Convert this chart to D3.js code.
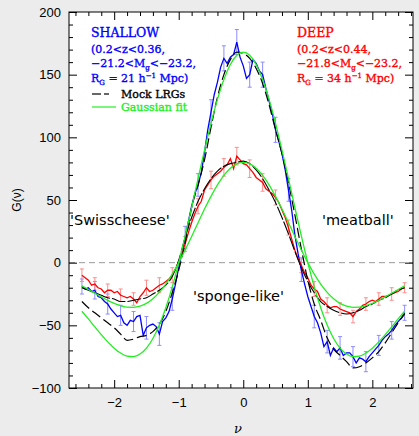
<!DOCTYPE html>
<html>
<head>
<meta charset="utf-8">
<script src="https://cdn.jsdelivr.net/npm/d3@7"></script>
<style>
  body { margin: 0; background: #ececec; }
  svg { display: block; }
  .tick text { font-family: "Liberation Sans", Arial, sans-serif; font-size: 13px; fill: #000; }
  .legend { font-family: "DejaVu Serif", serif; font-size: 11px; stroke-width: 0.35px; }
  .region { font-family: "DejaVu Sans", sans-serif; font-size: 14.5px; fill: #000; }
</style>
</head>
<body>
<svg id="chart" width="419" height="436"></svg>
<script>
// sample grids in nu
var nuFine = d3.range(0, 101).map(function (i) { return +(-2.5 + i * 0.05).toFixed(2); });
var nuCoarse = d3.range(0, 51).map(function (i) { return +(-2.5 + i * 0.1).toFixed(1); });
var nuErr = d3.range(0, 26).map(function (i) { return +(-2.5 + i * 0.2).toFixed(1); });

// SHALLOW sample (blue), step 0.05
var shallowG = [
  -19, -21, -20, -23, -22, -27, -28, -31, -33, -37,
  -40, -43, -42, -48, -50, -46, -47, -43, -42, -58,
  -52, -50, -49, -51, -57, -47, -44, -39, -29, -17,
  -4, 8, 20, 33, 45, 55, 62, 72, 88, 106,
  120, 134, 144, 156, 163, 159, 164, 166, 176, 164,
  157, 147, 150, 162, 159, 153, 150, 139, 129, 119,
  106, 97, 87, 74, 58, 42, 22, 7, -6, -17,
  -27, -35, -43, -48, -56, -67, -63, -74, -68, -71,
  -68, -74, -72, -72, -75, -80, -76, -77, -79, -75,
  -72, -69, -66, -62, -59, -57, -54, -50, -47, -44,
  -40
];

// DEEP sample (red), step 0.05
var deepG = [
  -10, -12, -14, -18, -17, -20, -21, -24, -22, -22,
  -24, -23, -26, -27, -28, -27, -29, -32, -27, -24,
  -20, -23, -22, -20, -18, -17, -15, -13, -10, -5,
  1, 8, 15, 24, 32, 39, 45, 49, 58, 62,
  66, 69, 71, 73, 76, 78, 83, 75, 85, 82,
  79, 78, 75, 72, 68, 66, 64, 59, 57, 55,
  52, 48, 42, 36, 28, 19, 10, 3, -2, -8,
  -12, -18, -21, -23, -29, -31, -34, -36, -35, -35,
  -37, -38, -39, -40, -43, -39, -37, -34, -33, -31,
  -30, -31, -29, -27, -27, -26, -25, -24, -23, -21,
  -20
];

// error bar half-lengths at nuErr
var shallowErr = [6, 7, 8, 8, 8, 9, 9, 9, 9, 9, 10, 10, 10, 10, 10, 10, 9, 9, 9, 9, 9, 8, 8, 8, 7, 6];
var deepErr = [5, 5, 5, 5, 5, 6, 6, 6, 6, 6, 7, 7, 7, 7, 7, 6, 6, 6, 6, 6, 5, 5, 5, 5, 5, 4];

// mock LRG curves (black dashed), step 0.1
var mockShallow = [
  -31, -36, -40, -44, -48, -52, -57, -62, -61, -59,
  -58, -55, -49, -39, -24, -6, 16, 44, 62, 82,
  108, 132, 150, 162, 168, 167, 163, 155, 143, 126,
  106, 87, 64, 38, 11, -14, -33, -46, -60, -69,
  -74, -79, -84, -83, -80, -76, -71, -64, -56, -48,
  -41
];
var mockDeep = [
  -20, -22, -24, -26, -28, -29, -31, -31, -30, -29,
  -28, -25, -22, -18, -11, 2, 20, 36, 49, 59,
  67, 73, 77, 79, 80, 81, 79, 74, 67, 58,
  48, 36, 23, 9, -4, -15, -24, -31, -35, -38,
  -40, -41, -40, -38, -35, -33, -30, -28, -25, -22,
  -20
];

// Gaussian fits (green), step 0.1
var gaussShallow = [
  -38.8, -44.9, -51.2, -57.4, -63.2, -68.2, -72.1, -74.5, -74.9, -72.9,
  -68.2, -60.5, -49.8, -36.0, -19.3, 0, 21.3, 43.9, 67.1, 89.8,
  111.2, 130.3, 146.2, 158.1, 165.5, 168, 165.5, 158.1, 146.2, 130.3,
  111.2, 89.8, 67.1, 43.9, 21.3, 0, -19.3, -36.0, -49.8, -60.5,
  -68.2, -72.9, -74.9, -74.5, -72.1, -68.2, -63.2, -57.4, -51.2, -44.9,
  -38.8
];
var gaussDeep = [
  -18.5, -21.4, -24.4, -27.3, -30.1, -32.5, -34.3, -35.5, -35.6, -34.7,
  -32.5, -28.8, -23.7, -17.1, -9.2, 0, 10.1, 20.9, 31.9, 42.8,
  52.9, 62.0, 69.6, 75.3, 78.8, 80, 78.8, 75.3, 69.6, 62.0,
  52.9, 42.8, 31.9, 20.9, 10.1, 0, -9.2, -17.1, -23.7, -28.8,
  -32.5, -34.7, -35.6, -35.5, -34.3, -32.5, -30.1, -27.3, -24.4, -21.4,
  -18.5
];

var xMajor = [-2, -1, 0, 1, 2];
var yMajor = [-100, -50, 0, 50, 100, 150, 200];

var pL = 69, pR = 413, pT = 12, pB = 388;
var x = d3.scaleLinear().domain([-2.7, 2.63]).range([pL, pR]);
var y = d3.scaleLinear().domain([-100, 200]).range([pB, pT]);

var svg = d3.select("#chart");

svg.append("rect")
  .attr("x", pL).attr("y", pT)
  .attr("width", pR - pL).attr("height", pB - pT)
  .attr("fill", "#fff");

svg.append("defs").append("clipPath").attr("id", "clip")
  .append("rect")
  .attr("x", pL).attr("y", pT)
  .attr("width", pR - pL).attr("height", pB - pT);

var plot = svg.append("g").attr("clip-path", "url(#clip)");

// zero line
plot.append("line")
  .attr("x1", pL).attr("x2", pR)
  .attr("y1", y(0)).attr("y2", y(0))
  .attr("stroke", "#999").attr("stroke-dasharray", "6,4");

function toPoints(nus, vals) {
  return nus.map(function (n, i) { return [n, vals[i]]; });
}

function errorBars(vals, errs, color) {
  var g = plot.append("g").attr("stroke", color).attr("stroke-width", 1);
  nuErr.forEach(function (n, i) {
    var v = vals[Math.round((n + 2.5) / 0.05)];
    var cx = x(n);
    g.append("line").attr("x1", cx).attr("x2", cx)
      .attr("y1", y(v - errs[i])).attr("y2", y(v + errs[i]));
    g.append("line").attr("x1", cx - 2).attr("x2", cx + 2)
      .attr("y1", y(v - errs[i])).attr("y2", y(v - errs[i]));
    g.append("line").attr("x1", cx - 2).attr("x2", cx + 2)
      .attr("y1", y(v + errs[i])).attr("y2", y(v + errs[i]));
  });
}

errorBars(shallowG, shallowErr, "#8c8cff");
errorBars(deepG, deepErr, "#ff8c8c");

var rough = d3.line().x(function (d) { return x(d[0]); }).y(function (d) { return y(d[1]); });
var smooth = d3.line().curve(d3.curveMonotoneX)
  .x(function (d) { return x(d[0]); }).y(function (d) { return y(d[1]); });

plot.append("path").datum(toPoints(nuFine, shallowG))
  .attr("d", rough).attr("fill", "none").attr("stroke", "#0000ff").attr("stroke-width", 1.3);
plot.append("path").datum(toPoints(nuFine, deepG))
  .attr("d", rough).attr("fill", "none").attr("stroke", "#ff0000").attr("stroke-width", 1.3);

plot.append("path").datum(toPoints(nuCoarse, mockShallow))
  .attr("d", smooth).attr("fill", "none").attr("stroke", "#000")
  .attr("stroke-width", 1.2).attr("stroke-dasharray", "10,4");
plot.append("path").datum(toPoints(nuCoarse, mockDeep))
  .attr("d", smooth).attr("fill", "none").attr("stroke", "#000")
  .attr("stroke-width", 1.1).attr("stroke-dasharray", "14,2");

plot.append("path").datum(toPoints(nuCoarse, gaussShallow))
  .attr("d", smooth).attr("fill", "none").attr("stroke", "#22ee22").attr("stroke-width", 1.3);
plot.append("path").datum(toPoints(nuCoarse, gaussDeep))
  .attr("d", smooth).attr("fill", "none").attr("stroke", "#22ee22").attr("stroke-width", 1.3);

// axes, ticks pointing inward on all four sides
var xMinor = d3.range(-13, 14).map(function (i) { return +(i * 0.2).toFixed(1); })
  .filter(function (v) { return xMajor.indexOf(v) < 0 && v > -2.7 && v < 2.63; });
var yMinor = d3.range(-100, 201, 10).filter(function (v) { return yMajor.indexOf(v) < 0; });

function drawAxis(axis, tr) {
  var g = svg.append("g").attr("transform", tr).call(axis);
  g.select(".domain").remove();
  g.selectAll(".tick line").attr("stroke", "#000");
  return g;
}

var intFmt = d3.format("d");
drawAxis(d3.axisBottom(x).tickValues(xMajor).tickSize(-8).tickPadding(10).tickFormat(intFmt), "translate(0," + pB + ")");
drawAxis(d3.axisBottom(x).tickValues(xMinor).tickSize(-4).tickFormat(""), "translate(0," + pB + ")");
drawAxis(d3.axisTop(x).tickValues(xMajor).tickSize(-8).tickFormat(""), "translate(0," + pT + ")");
drawAxis(d3.axisTop(x).tickValues(xMinor).tickSize(-4).tickFormat(""), "translate(0," + pT + ")");
drawAxis(d3.axisLeft(y).tickValues(yMajor).tickSize(-8).tickPadding(8).tickFormat(intFmt), "translate(" + pL + ",0)");
drawAxis(d3.axisLeft(y).tickValues(yMinor).tickSize(-4).tickFormat(""), "translate(" + pL + ",0)");
drawAxis(d3.axisRight(y).tickValues(yMajor).tickSize(-8).tickFormat(""), "translate(" + pR + ",0)");
drawAxis(d3.axisRight(y).tickValues(yMinor).tickSize(-4).tickFormat(""), "translate(" + pR + ",0)");

svg.append("rect")
  .attr("x", pL).attr("y", pT)
  .attr("width", pR - pL).attr("height", pB - pT)
  .attr("fill", "none").attr("stroke", "#000").attr("stroke-width", 1);

// axis titles
svg.append("text")
  .attr("x", (pL + pR) / 2 - 3).attr("y", 433)
  .attr("text-anchor", "middle")
  .style("font-family", "'DejaVu Serif', serif").style("font-style", "italic").style("font-size", "13px")
  .text("\u03bd");
svg.append("text")
  .attr("transform", "translate(21,200) rotate(-90)")
  .attr("text-anchor", "middle")
  .style("font-family", "'Liberation Sans', sans-serif").style("font-size", "12px")
  .text("G(\u03bd)");

// legends
function legendBlock(x0, lines, color) {
  var g = svg.append("g").attr("class", "legend").attr("fill", color).attr("stroke", color);
  lines.forEach(function (ln) {
    var t = g.append("text").attr("x", x0).attr("y", ln.y);
    ln.parts.forEach(function (p) {
      var s = t.append("tspan").text(p[0]);
      if (p[1] === "sub") s.attr("font-size", "7px").attr("baseline-shift", "-3");
      if (p[1] === "sup") s.attr("font-size", "7px").attr("baseline-shift", "4");
      if (p[1] === "big") s.attr("font-size", "12.5px");
    });
  });
}

legendBlock(91, [
  { y: 37, parts: [["SHALLOW", "big"]] },
  { y: 53, parts: [["(0.2<z<0.36,"]] },
  { y: 67, parts: [["\u221221.2<M"], ["g", "sub"], ["<\u221223.2,"]] },
  { y: 82, parts: [["R"], ["G", "sub"], [" = 21 h"], ["\u22121", "sup"], [" Mpc)"]] }
], "#0000ff");

legendBlock(297, [
  { y: 37, parts: [["DEEP", "big"]] },
  { y: 53, parts: [["(0.2<z<0.44,"]] },
  { y: 67, parts: [["\u221221.8<M"], ["g", "sub"], ["<\u221223.2,"]] },
  { y: 82, parts: [["R"], ["G", "sub"], [" = 34 h"], ["\u22121", "sup"], [" Mpc)"]] }
], "#ff0000");

svg.append("line").attr("x1", 92).attr("x2", 101).attr("y1", 94).attr("y2", 94)
  .attr("stroke", "#000").attr("stroke-width", 1.2);
svg.append("line").attr("x1", 104).attr("x2", 109).attr("y1", 94).attr("y2", 94)
  .attr("stroke", "#000").attr("stroke-width", 1.2);
svg.append("text").attr("class", "legend").attr("x", 121).attr("y", 98)
  .attr("fill", "#000").attr("stroke", "#000").text("Mock LRGs");
svg.append("line").attr("x1", 92).attr("x2", 116).attr("y1", 107).attr("y2", 107)
  .attr("stroke", "#22ee22").attr("stroke-width", 1.2);
svg.append("text").attr("class", "legend").attr("x", 121).attr("y", 111)
  .attr("fill", "#22ee22").attr("stroke", "#22ee22").text("Gaussian fit");

// topology region labels
svg.append("text").attr("class", "region").attr("x", 70).attr("y", 225).text("'Swisscheese'");
svg.append("text").attr("class", "region").attr("x", 322).attr("y", 225).text("'meatball'");
svg.append("text").attr("class", "region").attr("x", 193).attr("y", 301).text("'sponge-like'");
</script>
</body>
</html>
